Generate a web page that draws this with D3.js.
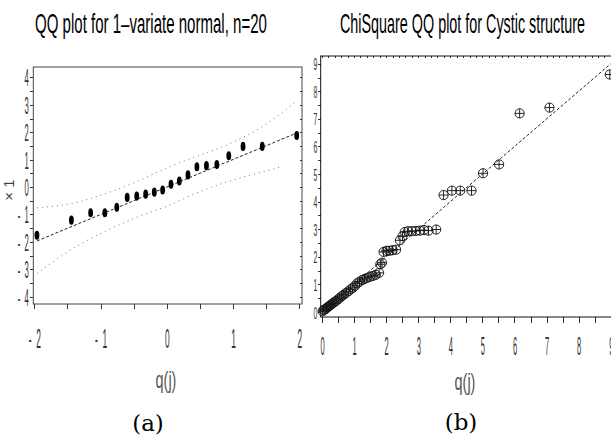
<!DOCTYPE html>
<meta charset="utf-8">
<style>
body { margin: 0; background: #fff; }
svg text { font-family: "Liberation Sans", Arial, sans-serif; }
.frameA { fill: none; stroke: #444; stroke-width: 1; }
.frameB { fill: none; stroke: #111; stroke-width: 1; }
.ax path { display: none; }
.ax line { stroke: #333; shape-rendering: crispEdges; }
</style>
<script src="https://d3js.org/d3.v7.min.js"></script>
<div id="chart"></div>
<script>

// ---- panel (a): normal QQ plot, n = 20 ----
var qNormal = [-1.96, -1.44, -1.15, -0.935, -0.755, -0.598, -0.454, -0.319, -0.189, -0.063,
               0.063, 0.189, 0.319, 0.454, 0.598, 0.755, 0.935, 1.15, 1.44, 1.96];
var x1 = [-1.76, -1.21, -0.94, -0.94, -0.74, -0.38, -0.33, -0.26, -0.19, -0.11,
          0.10, 0.22, 0.44, 0.74, 0.78, 0.82, 1.14, 1.48, 1.48, 1.88];
var fitQ = [-1.96, 1.96];
var fitY = [-1.97, 1.97];
var upperQ = [-1.96, -1.40, -0.94, -0.45, 0, 0.45, 0.94, 1.44, 1.96];
var upperY = [-0.76, -0.58, -0.25, 0.20, 0.70, 1.12, 1.57, 2.20, 3.14];
var lowerQ = [-1.96, -1.40, -0.94, -0.45, 0, 0.45, 0.94, 1.44, 1.72];
var lowerY = [-3.16, -2.22, -1.63, -1.10, -0.70, -0.22, 0.21, 0.55, 0.74];

// ---- panel (b): chi-square QQ plot ----
var qChi = [0.02, 0.06, 0.10, 0.14, 0.18, 0.23, 0.28, 0.33, 0.38, 0.44,
            0.50, 0.56, 0.62, 0.68, 0.75, 0.82, 0.89, 0.96, 1.03, 1.10,
            1.17, 1.25, 1.33, 1.41, 1.50, 1.59, 1.68, 1.78, 1.82, 1.87,
            1.92, 2.01, 2.10, 2.20, 2.31, 2.43, 2.51, 2.58, 2.68, 2.80,
            2.92, 3.05, 3.18, 3.32, 3.56, 3.79, 4.05, 4.31, 4.66, 5.02,
            5.52, 6.16, 7.09, 8.97];
var d2 = [0.03, 0.08, 0.10, 0.14, 0.18, 0.22, 0.27, 0.31, 0.36, 0.40,
          0.46, 0.52, 0.58, 0.63, 0.69, 0.75, 0.82, 0.88, 0.95, 1.04,
          1.10, 1.16, 1.20, 1.24, 1.28, 1.31, 1.35, 1.42, 1.73, 1.79,
          2.18, 2.22, 2.22, 2.24, 2.26, 2.60, 2.75, 2.90, 2.93, 2.93,
          2.94, 2.95, 2.97, 2.95, 2.99, 4.24, 4.40, 4.40, 4.40, 5.03,
          5.35, 7.20, 7.41, 8.61];
var refQ = [0, 9];
var refY = [0, 9];

var ticksAx = [-2, -1, 0, 1, 2];
var ticksAy = [-4, -3, -2, -1, 0, 1, 2, 3, 4];
var ticksBx = [0, 1, 2, 3, 4, 5, 6, 7, 8, 9];
var ticksBy = [0, 1, 2, 3, 4, 5, 6, 7, 8, 9];

var svg = d3.select("#chart").append("svg")
  .attr("width", 611)
  .attr("height", 437);

function fmt(d) { return d < 0 ? "-\u00A0\u00A0" + Math.abs(d) : String(d); }

// title squeezed horizontally to a given width
function title(x, y, w, txt) {
  var t = svg.append("text")
    .attr("font-size", 27)
    .text(txt);
  var nat = t.node().getComputedTextLength();
  t.attr("transform", "translate(" + x + "," + y + ") scale(" + (w / nat) + ",1.05)");
}

// ================= panel (a) =================
var pa = {left: 33.3, right: 302, top: 67, bottom: 304};
var xA = d3.scaleLinear().domain([-2.015, 2.04]).range([pa.left, pa.right]);
var yA = d3.scaleLinear().domain([-4.27, 4.38]).range([pa.bottom, pa.top]);

title(35, 33, 232, "QQ plot for 1\u2013variate normal, n=20");

// minor + major ticks
svg.append("g").attr("class", "ax")
  .attr("transform", "translate(0," + pa.bottom + ")")
  .call(d3.axisBottom(xA).ticks(8).tickSize(5).tickFormat(""));
svg.append("g").attr("class", "ax")
  .attr("transform", "translate(" + pa.left + ",0)")
  .call(d3.axisLeft(yA).ticks(16).tickSize(3).tickFormat(""));
svg.append("g").attr("class", "ax")
  .attr("transform", "translate(" + pa.right + ",0)")
  .call(d3.axisLeft(yA).ticks(16).tickSize(2).tickFormat(""));

// tick labels (tall, narrow)
var axA = svg.append("g").attr("class", "ax")
  .attr("transform", "translate(0," + pa.bottom + ")")
  .call(d3.axisBottom(xA).tickValues(ticksAx).tickSize(0).tickFormat(fmt));
axA.selectAll("text")
  .attr("y", 0).attr("dy", null)
  .attr("font-size", 28).attr("fill", "#333")
  .attr("transform", "translate(0,44) scale(0.3,1)");

var ayA = svg.append("g").attr("class", "ax")
  .attr("transform", "translate(" + pa.left + ",0)")
  .call(d3.axisLeft(yA).tickValues(ticksAy).tickSize(0).tickFormat(fmt));
ayA.selectAll("text")
  .attr("x", 0).attr("dy", null)
  .attr("font-size", 24).attr("fill", "#333")
  .attr("transform", "translate(-4.5,8.5) scale(0.32,1)");

svg.append("rect").attr("class", "frameA")
  .attr("x", pa.left).attr("y", pa.top)
  .attr("width", pa.right - pa.left).attr("height", pa.bottom - pa.top);

var lineA = d3.line().x(function(d) { return xA(d[0]); }).y(function(d) { return yA(d[1]); });

svg.append("path")
  .datum(d3.zip(upperQ, upperY))
  .attr("d", lineA.curve(d3.curveMonotoneX))
  .attr("fill", "none").attr("stroke", "#777").attr("stroke-width", 1)
  .attr("stroke-dasharray", "1,4");
svg.append("path")
  .datum(d3.zip(lowerQ, lowerY))
  .attr("d", lineA.curve(d3.curveMonotoneX))
  .attr("fill", "none").attr("stroke", "#777").attr("stroke-width", 1)
  .attr("stroke-dasharray", "1,4");
svg.append("path")
  .datum(d3.zip(fitQ, fitY))
  .attr("d", lineA.curve(d3.curveLinear))
  .attr("fill", "none").attr("stroke", "#222").attr("stroke-width", 1)
  .attr("stroke-dasharray", "3,2");

svg.append("g").selectAll("ellipse")
  .data(d3.zip(qNormal, x1))
  .join("ellipse")
  .attr("cx", function(d) { return xA(d[0]); })
  .attr("cy", function(d) { return yA(d[1]); })
  .attr("rx", 2.4).attr("ry", 4.6)
  .attr("fill", "#000");

svg.append("text")
  .attr("transform", "translate(14,190) rotate(-90)")
  .attr("text-anchor", "middle")
  .attr("font-size", 15).attr("fill", "#444")
  .text("\u00D7 1");

svg.append("text")
  .attr("transform", "translate(166,388) scale(0.6,1)")
  .attr("text-anchor", "middle")
  .attr("font-size", 24).attr("fill", "#555")
  .text("q(j)");

svg.append("text")
  .attr("x", 148).attr("y", 431)
  .attr("text-anchor", "middle")
  .style("font-family", "'DejaVu Serif', 'Liberation Serif', serif")
  .attr("font-size", 23)
  .text("(a)");

// ================= panel (b) =================
var pb = {left: 320.7, right: 613, top: 56, bottom: 317};
var xB = d3.scaleLinear().domain([-0.04, 9.07]).range([pb.left, pb.right]);
var yB = d3.scaleLinear().domain([-0.18, 9.28]).range([pb.bottom, pb.top]);

title(340, 33, 245, "ChiSquare QQ plot for Cystic structure");

svg.append("g").attr("class", "ax")
  .attr("transform", "translate(0," + pb.bottom + ")")
  .call(d3.axisBottom(xB).ticks(18).tickSize(6).tickFormat(""));
svg.append("g").attr("class", "ax")
  .attr("transform", "translate(0," + pb.top + ")")
  .call(d3.axisBottom(xB).ticks(45).tickSize(2).tickFormat(""));
svg.append("g").attr("class", "ax")
  .attr("transform", "translate(" + pb.left + ",0)")
  .call(d3.axisLeft(yB).ticks(18).tickSize(3).tickFormat(""));

var axB = svg.append("g").attr("class", "ax")
  .attr("transform", "translate(0," + pb.bottom + ")")
  .call(d3.axisBottom(xB).tickValues(ticksBx).tickSize(0).tickFormat(fmt));
axB.selectAll("text")
  .attr("y", 0).attr("dy", null)
  .attr("font-size", 25).attr("fill", "#333")
  .attr("transform", "translate(0,38) scale(0.3,1)");

var ayB = svg.append("g").attr("class", "ax")
  .attr("transform", "translate(" + pb.left + ",0)")
  .call(d3.axisLeft(yB).tickValues(ticksBy).tickSize(0).tickFormat(fmt));
ayB.selectAll("text")
  .attr("x", 0).attr("dy", null)
  .attr("font-size", 17).attr("fill", "#333")
  .attr("transform", "translate(-3.5,6) scale(0.4,1)");

svg.append("rect").attr("class", "frameB")
  .attr("x", pb.left).attr("y", pb.top)
  .attr("width", pb.right - pb.left).attr("height", pb.bottom - pb.top);

var lineB = d3.line().x(function(d) { return xB(d[0]); }).y(function(d) { return yB(d[1]); });
svg.append("path")
  .datum(d3.zip(refQ, refY))
  .attr("d", lineB)
  .attr("fill", "none").attr("stroke", "#222").attr("stroke-width", 1)
  .attr("stroke-dasharray", "3,2");

var r = 4.6;
var pts = svg.append("g").selectAll("g")
  .data(d3.zip(qChi, d2))
  .join("g")
  .attr("transform", function(d) { return "translate(" + xB(d[0]) + "," + yB(d[1]) + ")"; })
  .attr("stroke", "#111").attr("stroke-width", 0.9).attr("fill", "none");
pts.append("circle").attr("r", r);
pts.append("line").attr("x1", -r).attr("x2", r);
pts.append("line").attr("y1", -r).attr("y2", r);

svg.append("text")
  .attr("transform", "translate(465,390) scale(0.6,1)")
  .attr("text-anchor", "middle")
  .attr("font-size", 24).attr("fill", "#555")
  .text("q(j)");

svg.append("text")
  .attr("x", 461).attr("y", 430)
  .attr("text-anchor", "middle")
  .style("font-family", "'DejaVu Serif', 'Liberation Serif', serif")
  .attr("font-size", 23)
  .text("(b)");

</script>
